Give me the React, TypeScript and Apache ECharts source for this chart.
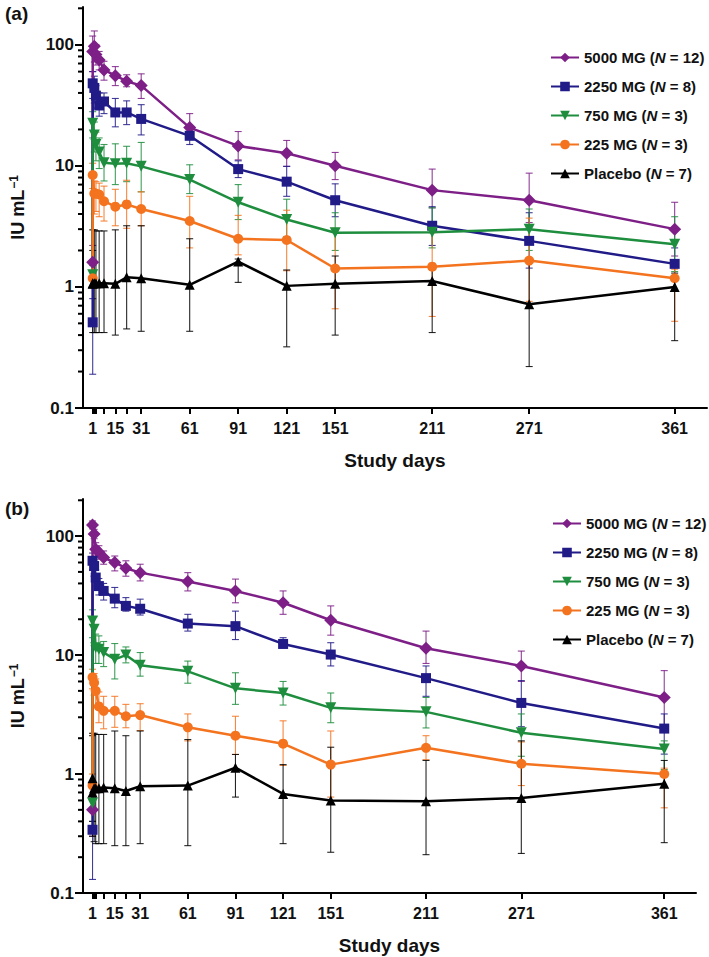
import React, { useEffect, useRef } from 'react';
import * as echarts from 'echarts';

// Study days of each sampling visit (day 1 predose and day 1 post-dose)
const days = [1, 1, 2, 3, 5, 8, 15, 22, 31, 61, 91, 121, 151, 211, 271, 361];
const xTickDays = [1, 2, 3, 8, 15, 22, 31, 61, 91, 121, 151, 211, 271, 361];
const xLabelDays = [1, 15, 31, 61, 91, 121, 151, 211, 271, 361];
const yLabelValues = [0.1, 1, 10, 100];
const yMinorValues = [0.2, 0.3, 0.4, 0.5, 0.6, 0.7, 0.8, 0.9, 2, 3, 4, 5, 6, 7, 8, 9, 20, 30, 40, 50, 60, 70, 80, 90, 200];

const groupNames = ['5000 MG', '2250 MG', '750 MG', '225 MG', 'Placebo'];
const groupN = [12, 8, 3, 3, 7];
const groupColors = ['#7D1F87', '#211B88', '#1E8E3E', '#F4731F', '#000000'];

// Panel (a)
const a5000 = [1.6, 88, 97, 83, 75, 62, 55.5, 50, 46, 20.7, 14.6, 12.7, 10, 6.3, 5.2, 3.0];
const a5000Lo = [1.2, 60, 72, 68, 62, 51, 46, 45, 36, 17, 11.2, 9.9, 7.7, 4.5, 3.4, 1.8];
const a5000Hi = [2.2, 118, 130, 100, 88, 73, 66, 56.5, 57.5, 27, 19.2, 16.2, 12.9, 9.4, 8.7, 5.0];
const a2250 = [0.51, 48, 44, 38, 31.5, 34, 27.6, 27.6, 24.4, 17.7, 9.4, 7.4, 5.2, 3.2, 2.4, 1.55];
const a2250Lo = [0.19, 36, 33, 30, 25.7, 27, 21, 21.9, 18, 15, 8, 5.6, 3.8, 2.2, 1.43, 1.2];
const a2250Hi = [0.8, 60, 55, 46, 40, 40, 36, 34.4, 32, 20.4, 11, 9.9, 7.1, 4.6, 4.1, 2.1];
const a750 = [1.26, 22.5, 18, 15, 13, 10.6, 10.4, 10.5, 9.9, 7.7, 5.0, 3.6, 2.8, 2.83, 3.0, 2.25];
const a750Lo = [1.0, 17, 13, 11, 9.5, 7.5, 7, 7.4, 6.1, 5.9, 3.6, 2.6, 2.0, 2.1, 2.0, 1.34];
const a750Hi = [1.5, 28, 23, 19, 17, 15, 15.2, 14.5, 15.6, 10.2, 7, 5.3, 4.1, 4.5, 4.4, 3.8];
const a225 = [1.18, 8.4, 5.9, 5.9, 5.8, 5.1, 4.6, 4.8, 4.4, 3.5, 2.5, 2.44, 1.42, 1.47, 1.65, 1.18];
const a225Lo = [1.0, 6.5, 4.0, 4.2, 3.8, 3.5, 3.2, 3.05, 3.2, 2.1, 1.84, 1.36, 0.66, 0.57, 0.76, 0.52];
const a225Hi = [1.35, 10.5, 7.5, 7.4, 7.2, 6.8, 6.4, 7.6, 6.1, 5.6, 3.9, 4.3, 3.05, 2.8, 3.7, 1.4];
const aPlacebo = [1.06, 1.07, 1.07, 1.07, 1.07, 1.07, 1.06, 1.2, 1.18, 1.04, 1.62, 1.02, 1.06, 1.12, 0.72, 1.0];
const aPlaceboLo = [0.5, 0.42, 0.42, 0.42, 0.42, 0.42, 0.4, 0.45, 0.43, 0.43, 1.09, 0.32, 0.4, 0.42, 0.22, 0.36];
const aPlaceboHi = [2.0, 2.96, 2.96, 2.9, 2.9, 2.9, 2.96, 3.2, 3.2, 2.5, 1.7, 1.38, 1.8, 1.5, 1.7, 1.3];

// Panel (b)
const b5000 = [0.5, 124, 104, 77.6, 73, 66, 60, 53.7, 49.3, 41.5, 34.6, 27.5, 19.6, 11.4, 8.1, 4.4];
const b5000Lo = [0.3, 115, 95, 68, 64, 58, 51, 46, 42, 34.6, 27.5, 22, 14.7, 8.5, 6.0, 2.6];
const b5000Hi = [0.8, 134, 114, 88, 83, 75, 68, 62, 58, 49.3, 43.5, 34.6, 25.9, 15.9, 10.8, 7.4];
const b2250 = [0.34, 62, 56, 44.8, 38, 34.6, 29.8, 25.9, 24.5, 18.4, 17.5, 12.4, 10.1, 6.4, 3.96, 2.41];
const b2250Lo = [0.13, 52, 46, 38, 32, 29, 25, 23.4, 21.7, 15.9, 13.5, 11.5, 8.1, 4.5, 2.5, 1.47];
const b2250Hi = [0.5, 72, 66, 52, 44, 40, 37, 30.4, 29.5, 22, 23.4, 14, 12.7, 8.1, 6.1, 3.2];
const b750 = [0.57, 19.3, 16.5, 11.5, 11.2, 10.5, 9.2, 10, 8.2, 7.3, 5.25, 4.8, 3.6, 3.33, 2.22, 1.62];
const b750Lo = [0.4, 14, 12, 8.5, 8.5, 8.0, 6.3, 8.6, 6.65, 5.8, 3.85, 3.8, 2.7, 2.44, 1.41, 1.09];
const b750Hi = [0.8, 24, 21, 15, 14.5, 13, 12.5, 11.7, 10.5, 8.9, 7.1, 6.0, 4.8, 4.4, 3.2, 1.9];
const b225 = [0.8, 6.5, 5.85, 5.0, 3.7, 3.4, 3.4, 3.06, 3.13, 2.47, 2.1, 1.8, 1.2, 1.66, 1.22, 1.0];
const b225Lo = [0.6, 5.2, 4.6, 3.7, 2.7, 2.4, 2.47, 2.45, 2.32, 1.9, 1.46, 1.18, 0.64, 1.32, 0.8, 0.52];
const b225Hi = [1.0, 7.6, 7.0, 6.3, 4.9, 4.5, 4.5, 3.85, 3.9, 3.2, 3.06, 2.8, 2.3, 2.1, 1.86, 1.12];
const bPlacebo = [0.92, 0.7, 0.76, 0.76, 0.76, 0.77, 0.76, 0.72, 0.79, 0.8, 1.13, 0.68, 0.6, 0.59, 0.63, 0.83];
const bPlaceboLo = [0.4, 0.3, 0.27, 0.26, 0.26, 0.26, 0.25, 0.25, 0.26, 0.25, 0.64, 0.26, 0.22, 0.21, 0.215, 0.265];
const bPlaceboHi = [2.1, 2.2, 2.2, 2.15, 2.15, 2.15, 2.3, 2.1, 2.3, 1.95, 1.46, 1.2, 1.68, 1.3, 1.9, 1.3];

const panels = [
  {
    label: '(a)',
    mean: [a5000, a2250, a750, a225, aPlacebo],
    lo: [a5000Lo, a2250Lo, a750Lo, a225Lo, aPlaceboLo],
    hi: [a5000Hi, a2250Hi, a750Hi, a225Hi, aPlaceboHi],
  },
  {
    label: '(b)',
    mean: [b5000, b2250, b750, b225, bPlacebo],
    lo: [b5000Lo, b2250Lo, b750Lo, b225Lo, bPlaceboLo],
    hi: [b5000Hi, b2250Hi, b750Hi, b225Hi, bPlaceboHi],
  },
];

const FONT = '"Liberation Sans", Arial, Helvetica, sans-serif';
const symbols = ['diamond', 'rect', 'triangle', 'circle', 'triangle'];
const symbolRotates = [0, 0, 180, 0, 0];
const symbolSizes = [13, 10, 11, 10, 10];
const X_MIN = -5;
const X_MAX = 381;

const grids = [
  { left: 75, top: 7, width: 632, height: 401 },
  { left: 75, top: 499, width: 621, height: 394 },
];
const legendPos = [
  { left: 545, top: 45 },
  { left: 547, top: 511 },
];
const labelPos = [
  { x: 5, y: 4 },
  { x: 5, y: 499 },
];

const makeErrRender = (color: string) => (params: any, api: any) => {
  const x = api.value(0);
  const lo = api.value(1);
  const hi = api.value(2);
  const pLo = api.coord([x, lo]);
  const pHi = api.coord([x, hi]);
  const w = 3.5;
  const style = { stroke: color, lineWidth: 1.1, opacity: 0.85 };
  return {
    type: 'group',
    children: [
      { type: 'line', shape: { x1: pLo[0], y1: pLo[1], x2: pHi[0], y2: pHi[1] }, style },
      { type: 'line', shape: { x1: pLo[0] - w, y1: pLo[1], x2: pLo[0] + w, y2: pLo[1] }, style },
      { type: 'line', shape: { x1: pHi[0] - w, y1: pHi[1], x2: pHi[0] + w, y2: pHi[1] }, style },
    ],
  };
};

// minor log ticks, placed on the y axis through the axis scale
const renderMinorTick = (params: any, api: any) => {
  const p = api.coord([api.value(0), api.value(1)]);
  const x0 = params.coordSys.x;
  return {
    type: 'group',
    children: [
      {
        type: 'line',
        shape: { x1: x0 - 5, y1: p[1], x2: x0, y2: p[1] },
        style: { stroke: '#000000', lineWidth: 2 },
      },
    ],
  };
};

function buildOption() {
  const axisLineStyle = { color: '#000', width: 2 };
  const xAxes: any[] = [];
  const yAxes: any[] = [];
  const series: any[] = [];
  const legends: any[] = [];
  const graphics: any[] = [];

  panels.forEach((panel, p) => {
    xAxes.push({
      type: 'value',
      gridIndex: p,
      min: X_MIN,
      max: X_MAX,
      axisLine: { show: true, onZero: false, lineStyle: axisLineStyle },
      axisTick: { show: true, length: 6, lineStyle: axisLineStyle, customValues: xTickDays },
      axisLabel: {
        customValues: xLabelDays,
        fontSize: 16,
        fontWeight: 'bold',
        color: '#111',
        fontFamily: FONT,
        margin: 12,
      },
      splitLine: { show: false },
      name: 'Study days',
      nameLocation: 'middle',
      nameGap: 43,
      nameTextStyle: { fontSize: 19, fontWeight: 'bold', color: '#111', fontFamily: FONT },
    });
    yAxes.push({
      type: 'log',
      logBase: 10,
      gridIndex: p,
      min: 0.1,
      max: 205,
      axisLine: { show: true, onZero: false, lineStyle: axisLineStyle },
      axisTick: { show: true, length: 8, lineStyle: axisLineStyle, customValues: yLabelValues },
      axisLabel: {
        customValues: yLabelValues,
        formatter: (v: number) => (v < 1 ? v.toFixed(1) : String(Math.round(v))),
        fontSize: 17,
        fontWeight: 'bold',
        color: '#111',
        fontFamily: FONT,
        margin: 9,
      },
      splitLine: { show: false },
      name: '{m|IU mL}{s|−1}',
      nameLocation: 'middle',
      nameRotate: 90,
      nameGap: 55,
      nameTextStyle: {
        rich: {
          m: { fontSize: 18, fontWeight: 'bold', color: '#111', fontFamily: FONT },
          s: { fontSize: 12, fontWeight: 'bold', color: '#111', fontFamily: FONT, verticalAlign: 'top', padding: [0, 0, 8, 1] },
        },
      },
    });

    groupNames.forEach((name, g) => {
      const color = groupColors[g];
      series.push({
        type: 'custom',
        xAxisIndex: p,
        yAxisIndex: p,
        silent: true,
        z: 2,
        encode: { x: 0, y: [1, 2] },
        renderItem: makeErrRender(color),
        data: days.map((d, i) => [d, panel.lo[g][i], panel.hi[g][i]]),
      });
      series.push({
        type: 'line',
        name,
        xAxisIndex: p,
        yAxisIndex: p,
        z: 3,
        symbol: symbols[g],
        symbolSize: symbolSizes[g],
        symbolRotate: symbolRotates[g],
        showAllSymbol: true,
        lineStyle: { color, width: 2.5 },
        itemStyle: { color },
        data: days.map((d, i) => [d, panel.mean[g][i]]),
      });
    });

    series.push({
      type: 'custom',
      xAxisIndex: p,
      yAxisIndex: p,
      z: 4,
      encode: { x: 0, y: 1 },
      renderItem: renderMinorTick,
      data: yMinorValues.map((v) => [100, v]),
    });

    legends.push({
      orient: 'vertical',
      left: legendPos[p].left,
      top: legendPos[p].top,
      itemWidth: 28,
      itemHeight: 12,
      itemGap: 14,
      data: groupNames,
      formatter: (name: string) => {
        const g = groupNames.indexOf(name);
        return `{b|${name} (}{i|N}{b| = ${groupN[g]})}`;
      },
      textStyle: {
        rich: {
          b: { fontSize: 15, fontWeight: 'bold', color: '#111', fontFamily: FONT },
          i: { fontSize: 15, fontWeight: 'bold', fontStyle: 'italic', color: '#111', fontFamily: FONT },
        },
      },
    });

    graphics.push({
      type: 'text',
      left: labelPos[p].x,
      top: labelPos[p].y,
      style: { text: panel.label, fontSize: 19, fontWeight: 'bold', fill: '#111', fontFamily: FONT },
    });
  });

  return {
    animation: false,
    backgroundColor: '#fff',
    grid: grids.map((g) => ({ ...g, containLabel: false })),
    xAxis: xAxes,
    yAxis: yAxes,
    legend: legends,
    graphic: graphics,
    series,
  };
}

export default function App() {
  const ref = useRef<HTMLDivElement>(null);
  useEffect(() => {
    document.body.style.margin = '0';
    if (!ref.current) return;
    const chart = echarts.init(ref.current, undefined, { renderer: 'svg' });
    chart.setOption(buildOption() as any);
    return () => chart.dispose();
  }, []);
  return <div ref={ref} style={{ width: 709, height: 957 }} />;
}
